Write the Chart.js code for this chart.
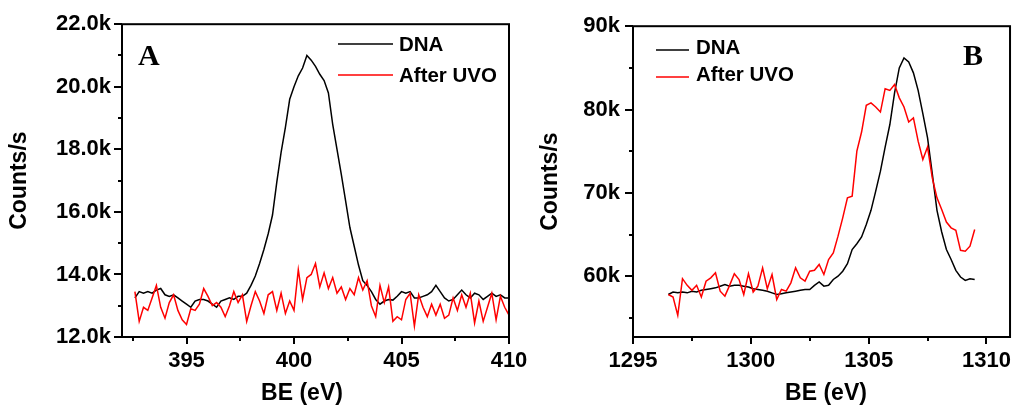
<!DOCTYPE html>
<html>
<head>
<meta charset="utf-8">
<script src="https://cdn.jsdelivr.net/npm/chart.js@4.4.1/dist/chart.umd.min.js"></script>
<style>
  body { margin: 0; background: #fff; }
  #wrap { position: relative; width: 1022px; height: 408px; }
  canvas { position: absolute; top: 0; }
  #chartA { left: 0; }
  #chartB { left: 511px; }
</style>
</head>
<body>
<div id="wrap">
  <canvas id="chartA" width="540" height="408"></canvas>
  <canvas id="chartB" width="511" height="408"></canvas>
</div>
<script>
const seriesNames = ["DNA", "After UVO"];

// panel A (binding energy, eV)
const energyA = [
  392.6, 392.8, 393.0, 393.2, 393.4, 393.6, 393.8, 394.0, 394.2, 394.4,
  394.6, 394.8, 395.0, 395.2, 395.4, 395.6, 395.8, 396.0, 396.2, 396.4,
  396.6, 396.8, 397.0, 397.2, 397.4, 397.6, 397.8, 398.0, 398.2, 398.4,
  398.6, 398.8, 399.0, 399.2, 399.4, 399.6, 399.8, 400.0, 400.2, 400.4,
  400.6, 400.8, 401.0, 401.2, 401.4, 401.6, 401.8, 402.0, 402.2, 402.4,
  402.6, 402.8, 403.0, 403.2, 403.4, 403.6, 403.8, 404.0, 404.2, 404.4,
  404.6, 404.8, 405.0, 405.2, 405.4, 405.6, 405.8, 406.0, 406.2, 406.4,
  406.6, 406.8, 407.0, 407.2, 407.4, 407.6, 407.8, 408.0, 408.2, 408.4,
  408.6, 408.8, 409.0, 409.2, 409.4, 409.6, 409.8, 410.0
];
const dnaA = [
  13250, 13450, 13400, 13450, 13400, 13500, 13550, 13350, 13300, 13350,
  13250, 13150, 13050, 12950, 13150, 13200, 13200, 13150, 13050, 12950,
  13150, 13200, 13250, 13200, 13300, 13300, 13400, 13650, 13950, 14350,
  14800, 15300, 15900, 16950, 17900, 18700, 19600, 20000, 20350, 20600,
  21000, 20850, 20650, 20400, 20200, 19800, 18800, 18000, 17200, 16350,
  15500, 14900, 14300, 13800, 13650, 13450, 13200, 13050, 13150, 13200,
  13180, 13300, 13450, 13400, 13450, 13250, 13250, 13300, 13350, 13450,
  13650, 13450, 13250, 13150, 13200, 13350, 13500, 13350, 13250, 13400,
  13350, 13200, 13300, 13400, 13300, 13350, 13250, 13250
];
const uvoA = [
  13450, 12500, 12950, 12850, 13250, 13650, 12950, 12600, 13100, 13350,
  12850, 12550, 12400, 12900, 12850, 13050, 13550, 13300, 13000, 13100,
  12950, 12650, 13000, 13450, 13100, 13350, 12500, 13000, 13450, 13150,
  12750, 13350, 13450, 12850, 13400, 12750, 13150, 12850, 14150, 13200,
  13900, 14000, 14350, 13600, 14050, 13550, 13900, 13400, 13600, 13200,
  13550, 13350, 13900, 13500, 13800, 13000, 12650, 13650, 13100, 13600,
  12500, 12650, 12550, 13200, 13400, 12350, 13350, 12950, 12650, 13050,
  12700, 13050, 12600, 12700, 13250, 12850, 13350, 12950, 13400, 12450,
  13150, 12500, 12950, 13400, 12550, 13300, 12950, 12700
];
const xMajorA = [395, 400, 405, 410];
const xMinorA = [392.5, 397.5, 402.5, 407.5];
const yMajorA = [12000, 14000, 16000, 18000, 20000, 22000];
const yMinorA = [13000, 15000, 17000, 19000, 21000];

// panel B
const energyB = [
  1296.5, 1296.7, 1296.9, 1297.1, 1297.3, 1297.5, 1297.7, 1297.9, 1298.1, 1298.3,
  1298.5, 1298.7, 1298.9, 1299.1, 1299.3, 1299.5, 1299.7, 1299.9, 1300.1, 1300.3,
  1300.5, 1300.7, 1300.9, 1301.1, 1301.3, 1301.5, 1301.7, 1301.9, 1302.1, 1302.3,
  1302.5, 1302.7, 1302.9, 1303.1, 1303.3, 1303.5, 1303.7, 1303.9, 1304.1, 1304.3,
  1304.5, 1304.7, 1304.9, 1305.1, 1305.3, 1305.5, 1305.7, 1305.9, 1306.1, 1306.3,
  1306.5, 1306.7, 1306.9, 1307.1, 1307.3, 1307.5, 1307.7, 1307.9, 1308.1, 1308.3,
  1308.5, 1308.7, 1308.9, 1309.1, 1309.3, 1309.5
];
const dnaB = [
  57800, 58100, 58000, 58100, 58000, 58200, 58100, 58300, 58400, 58500,
  58600, 58800, 59000, 58800, 58900, 58900, 58800, 58700, 58500, 58400,
  58300, 58200, 58000, 57800, 57900, 58000, 58100, 58200, 58300, 58400,
  58400, 58900, 59300, 58800, 58900, 59600, 60000, 60600, 61500, 63200,
  63900, 64700, 66200, 67900, 70200, 72600, 75500, 78200, 82000, 85000,
  86200, 85700, 84400, 82300, 79500, 76600, 72300, 67900, 65300, 63200,
  62000, 60700, 59900, 59500, 59700, 59600
];
const uvoB = [
  57800, 57500, 55300, 59700, 58900, 58300, 58900, 57500, 59400, 59800,
  60400, 58200, 57600, 58900, 60300, 59600, 57800, 60300, 58100, 58800,
  61000, 58500, 60200, 57200, 58400, 58200, 59200, 61000, 59800, 59400,
  60600, 60700, 61400, 60200, 62000, 62800, 64800, 67000, 69400, 69600,
  75000, 77300, 80500, 80800, 80300, 79700, 82500, 82300, 83000, 81400,
  80300, 78500, 79000, 76200, 74000, 75500, 71800, 69400, 68000, 66500,
  65800, 65500, 63100, 63000, 63600, 65600
];
const xMajorB = [1295, 1300, 1305, 1310];
const xMinorB = [1297.5, 1302.5, 1307.5];
const yMajorB = [60000, 70000, 80000, 90000];
const yMinorB = [55000, 65000, 75000, 85000];

const sans = "'Liberation Sans', Arial, sans-serif";

// frame, outward ticks, panel letter, legend and x title
const decor = {
  id: "decor",
  afterDraw(chart, args, o) {
    const ctx = chart.ctx;
    const { left, right, top, bottom } = chart.chartArea;
    const sx = chart.scales.x, sy = chart.scales.y;
    ctx.save();
    ctx.strokeStyle = "#000";
    ctx.lineWidth = 2;
    ctx.strokeRect(left, top, right - left, bottom - top);
    ctx.beginPath();
    sx.ticks.forEach(t => {
      const len = o.xMajor.includes(t.value) ? 7 : 4;
      const px = Math.round(sx.getPixelForValue(t.value));
      ctx.moveTo(px, bottom); ctx.lineTo(px, bottom + len);
    });
    sy.ticks.forEach(t => {
      const len = o.yMajor.includes(t.value) ? 8 : 4;
      const py = Math.round(sy.getPixelForValue(t.value));
      ctx.moveTo(left, py); ctx.lineTo(left - len, py);
    });
    ctx.stroke();

    ctx.fillStyle = "#000";
    ctx.font = "bold 30px 'Liberation Serif', 'Times New Roman', serif";
    ctx.textBaseline = "alphabetic";
    ctx.fillText(o.letter, o.letterX, o.letterY);

    ctx.font = "bold 20.5px " + sans;
    ctx.textBaseline = "middle";
    chart.data.datasets.forEach((ds, i) => {
      const y = o.legendY + i * o.rowGap;
      ctx.strokeStyle = ds.borderColor;
      ctx.lineWidth = 1.5;
      ctx.beginPath();
      ctx.moveTo(o.legendX, y);
      ctx.lineTo(o.legendX + o.lineLen, y);
      ctx.stroke();
      ctx.fillText(ds.label, o.legendX + o.lineLen + o.textGap, y + o.textDy);
    });

    ctx.font = "bold 23px " + sans;
    ctx.textAlign = "center";
    ctx.fillText("BE (eV)", o.xTitleX, 394);
    ctx.restore();
  }
};

function panel(id, energy, dna, uvo, ax, deco) {
  const pts = vals => vals.map((v, i) => ({ x: energy[i], y: v }));
  return new Chart(document.getElementById(id), {
    type: "line",
    data: {
      datasets: [
        { label: seriesNames[0], data: pts(dna), borderColor: "#000000", borderWidth: 1.5, pointRadius: 0, order: 1 },
        { label: seriesNames[1], data: pts(uvo), borderColor: "#ff0000", borderWidth: 1.5, pointRadius: 0, order: 0 }
      ]
    },
    options: {
      responsive: false,
      animation: false,
      layout: { padding: { top: 24, right: ax.padRight, bottom: 0, left: 0 } },
      plugins: { legend: { display: false }, tooltip: { enabled: false }, decor: deco },
      scales: {
        x: {
          type: "linear",
          min: ax.xMin, max: ax.xMax,
          afterBuildTicks: s => { s.ticks = ax.xMajor.concat(ax.xMinor).sort((a, b) => a - b).map(v => ({ value: v })); },
          afterFit: s => { s.height = 71; },
          grid: { display: false, drawTicks: false },
          border: { display: false },
          ticks: {
            autoSkip: false, maxRotation: 0, padding: 11, color: "#000",
            font: { family: sans, size: 22, weight: "bold" },
            callback: v => ax.xMajor.includes(v) ? String(v) : ""
          }
        },
        y: {
          min: ax.yMin, max: ax.yMax,
          afterBuildTicks: s => { s.ticks = ax.yMajor.concat(ax.yMinor).sort((a, b) => a - b).map(v => ({ value: v })); },
          afterFit: s => { s.width = 122; },
          grid: { display: false, drawTicks: false },
          border: { display: false },
          ticks: {
            autoSkip: false, padding: ax.yPad, color: "#000",
            font: { family: sans, size: 22, weight: "bold" },
            callback: v => ax.yMajor.includes(v) ? ax.fmt(v) : ""
          },
          title: {
            display: true, text: "Counts/s", color: "#000",
            font: { family: sans, size: 23, weight: "bold" },
            padding: { top: ax.titlePad, bottom: 0 }
          }
        }
      }
    },
    plugins: [decor]
  });
}

panel("chartA", energyA, dnaA, uvoA, {
  xMin: 392, xMax: 410, yMin: 12000, yMax: 22000,
  xMajor: xMajorA, xMinor: xMinorA, yMajor: yMajorA, yMinor: yMinorA,
  fmt: v => (v / 1000).toFixed(1) + "k", yPad: 11, titlePad: 6, padRight: 31
}, {
  xMajor: xMajorA, yMajor: yMajorA, letter: "A", letterX: 138, letterY: 65,
  legendX: 338, legendY: 44, rowGap: 31, lineLen: 55, textGap: 6, textDy: 1, xTitleX: 302
});

panel("chartB", energyB, dnaB, uvoB, {
  xMin: 1295, xMax: 1311, yMin: 52700, yMax: 90000,
  xMajor: xMajorB, xMinor: xMinorB, yMajor: yMajorB, yMinor: yMinorB,
  fmt: v => (v / 1000) + "k", yPad: 13, titlePad: 26, padRight: 1
}, {
  xMajor: xMajorB, yMajor: yMajorB, letter: "B", letterX: 452, letterY: 65,
  legendX: 145, legendY: 50, rowGap: 27, lineLen: 33, textGap: 7, textDy: -2, xTitleX: 315
});
</script>
</body>
</html>
